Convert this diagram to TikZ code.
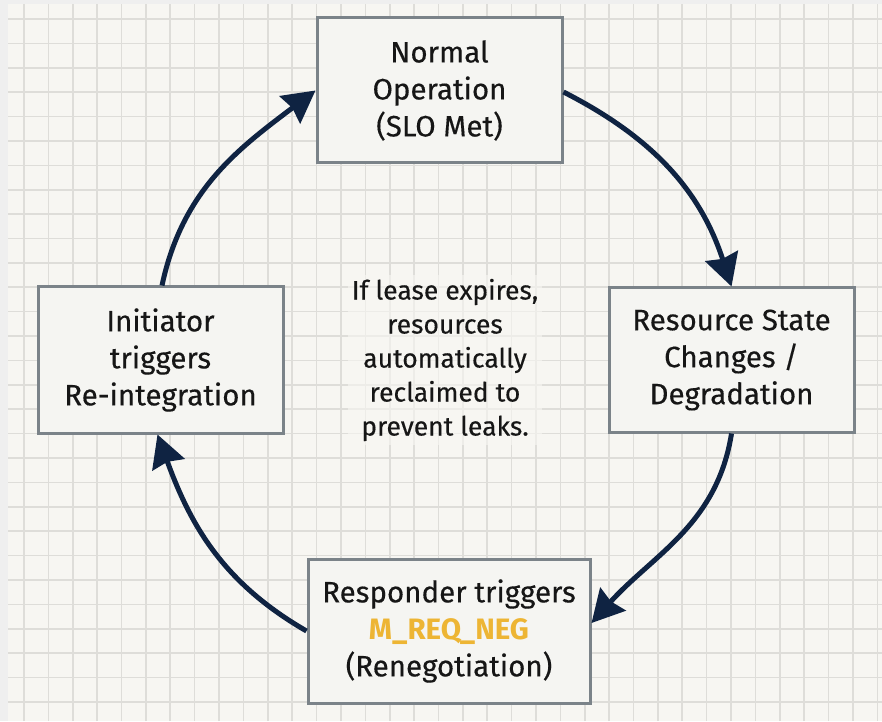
\documentclass[tikz,border=0pt]{standalone}
\usepackage{fontspec}
\setmainfont{Fira Sans}[UprightFeatures={FakeBold=0.35}]
\usetikzlibrary{arrows.meta}
\definecolor{outerbg}{HTML}{EFEFEF}
\definecolor{paper}{HTML}{F7F6F2}
\definecolor{gridc}{HTML}{DEDDD9}
\definecolor{boxfill}{HTML}{F5F5F2}
\definecolor{boxline}{HTML}{7B8389}
\definecolor{navy}{HTML}{0F2342}
\definecolor{txt}{HTML}{161616}
\definecolor{gold}{HTML}{EDB534}
\tikzset{
  statebox/.style={draw=boxline, line width=3pt, fill=boxfill, align=center,
    text=txt, font=\fontsize{29.5}{37}\selectfont, inner sep=0pt},
  arr/.style={draw=navy, line width=5pt,
    -{Stealth[length=32pt,width=34pt,inset=3pt]}},
}
\begin{document}
\begin{tikzpicture}[x=1pt,y=1pt]
\useasboundingbox (0,0) rectangle (882,721);
\fill[outerbg] (0,0) rectangle (882,721);
\fill[paper] (8,0) rectangle (882,717);
\foreach \i in {0,...,35} {
  \draw[gridc, line width=1.6pt] ({24+24.38*\i},0) -- ({24+24.38*\i},717);
}
\foreach \i in {0,...,28} {
  \draw[gridc, line width=1.6pt] (8,{702-24.39*\i}) -- (882,{702-24.39*\i});
}
\node[statebox, minimum width=245pt, minimum height=145pt] (norm) at (439.5,630.5)
  {Normal\\Operation\\(SLO Met)};
\node[statebox, minimum width=245pt, minimum height=144pt] (res) at (731.5,361)
  {Resource State\\Changes /\\Degradation};
\node[statebox, minimum width=282pt, minimum height=144pt] (resp) at (449,90)
  {Responder triggers\\{\color{gold}\bfseries M\_REQ\_NEG}\\(Renegotiation)};
\node[statebox, minimum width=245pt, minimum height=146pt] (init) at (160.5,361)
  {Initiator\\triggers\\Re-integration};
\node[fill=paper, fill opacity=0.6, text opacity=1, text=txt, align=center,
  font=\fontsize{26.5}{34}\selectfont, inner sep=4pt] (note) at (445,361)
  {If lease expires,\\resources\\automatically\\reclaimed to\\prevent leaks.};
\draw[arr] ([xshift=1.5pt]init.north) to[out=78,in=217] (norm.west);
\draw[arr] ([yshift=-1.5pt]norm.east) to[out=-27,in=108] (res.north);
\draw[arr] (res.south) to[out=-99,in=48] ([yshift=8pt]resp.east);
\draw[arr] (resp.west) to[out=150,in=-70] ([xshift=-3pt]init.south);
\end{tikzpicture}
\end{document}
